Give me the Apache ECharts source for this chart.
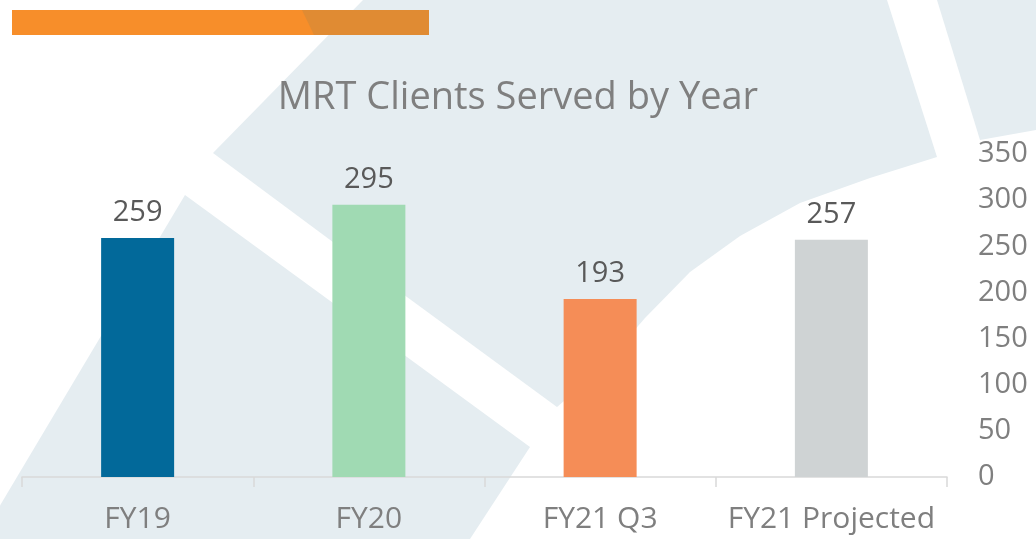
<!DOCTYPE html>
<html>
<head>
<meta charset="utf-8">
<script src="https://cdn.jsdelivr.net/npm/echarts@6/dist/echarts.min.js"></script>
<style>
html,body{margin:0;padding:0;background:#fff;}
#chart{width:1036px;height:539px;}
</style>
</head>
<body>
<div id="chart"></div>
<script>
// Data
const categories = ['FY19', 'FY20', 'FY21 Q3', 'FY21 Projected'];
const clientsServed = [259, 295, 193, 257];
const chartTitle = 'MRT Clients Served by Year';

// Styles
const barColors = ['#02699a', '#a0dab3', '#f58d57', '#cfd3d4'];
const FONT = '"Open Sans", Lato, sans-serif';
const BG_BLUE = '#e5edf1';

const chart = echarts.init(document.getElementById('chart'));

const bgShapes = [
  // large upper shape
  [[363,0],[887,0],[937,157],[870,178],[800,203],[740,236],[690,272],[645,318],[600,370],[557,407],[407,297],[213,153]],
  // lower-left shape
  [[185,195],[407,357],[530,447],[470,539],[-20,539]],
  // top-right shape
  [[937,0],[1036,0],[1036,130],[980,140]]
];

const graphics = bgShapes.map(pts => ({
  type: 'polygon',
  z: -10,
  silent: true,
  shape: { points: pts },
  style: { fill: BG_BLUE }
}));
graphics.push({
  type: 'rect', z: -5, silent: true,
  shape: { x: 12, y: 10, width: 417, height: 25 },
  style: { fill: '#f78e2a' }
});
graphics.push({
  type: 'polygon', z: -4, silent: true,
  shape: { points: [[302,10],[429,10],[429,35],[314,35]] },
  style: { fill: '#e08b33' }
});

chart.setOption({
  backgroundColor: '#ffffff',
  animation: false,
  graphic: graphics,
  title: {
    text: chartTitle,
    left: 'center',
    top: 74,
    textStyle: { fontFamily: FONT, fontSize: 38, fontWeight: 'normal', color: '#7f7f7f' }
  },
  grid: { left: 22, right: 89, top: 154, bottom: 62, containLabel: false },
  xAxis: {
    type: 'category',
    data: categories,
    axisLine: { show: true, lineStyle: { color: '#d9d9d9', width: 1.5 } },
    axisTick: { show: true, length: 10, lineStyle: { color: '#d9d9d9', width: 1.5 } },
    axisLabel: { interval: 0, margin: 27, fontFamily: FONT, fontSize: 30, color: '#7f7f7f' }
  },
  yAxis: {
    type: 'value',
    position: 'right',
    min: 0, max: 350, interval: 50,
    axisLine: { show: false },
    axisTick: { show: false },
    splitLine: { show: false },
    axisLabel: { margin: 31, fontFamily: FONT, fontSize: 29, color: '#7f7f7f', align: 'left' }
  },
  series: [{
    type: 'bar',
    data: clientsServed.map((v, i) => ({ value: v, itemStyle: { color: barColors[i] } })),
    barWidth: 73,
    label: {
      show: true, position: 'top', distance: 11,
      fontFamily: FONT, fontSize: 29, color: '#595959'
    }
  }]
});
</script>
</body>
</html>
